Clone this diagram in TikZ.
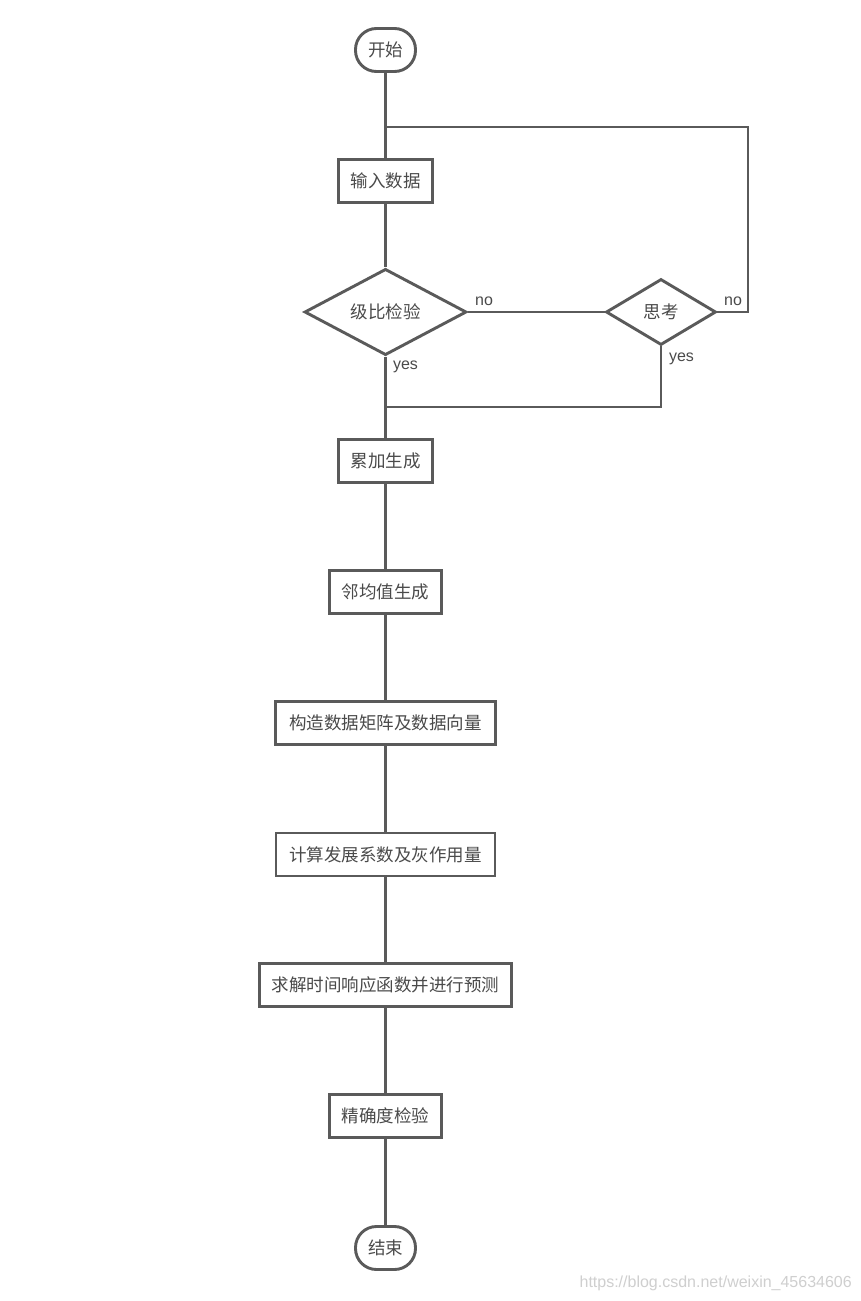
\documentclass[tikz,border=0pt]{standalone}
\usepackage{fontspec}
\setmainfont{Liberation Sans}
\newfontfamily\cjk{Noto Sans CJK SC}
\usetikzlibrary{shapes.geometric}
\definecolor{ln}{HTML}{5A5A5A}
\definecolor{tx}{HTML}{4A4A4A}
\definecolor{wm}{HTML}{CFCFCF}
\begin{document}
\begin{tikzpicture}[x=1pt,y=-1pt,
  conn/.style={draw=ln, line width=2.9pt},
  procbox/.style={draw=ln, line width=2.9pt, fill=white, inner sep=0pt, text=tx,
    font=\cjk\fontsize{17.5}{20}\selectfont, minimum height=43pt},
  termbox/.style={procbox, rounded corners=21pt, minimum width=60pt},
  decbox/.style={diamond, draw=ln, line width=2.9pt, fill=white, inner sep=0pt, text=tx,
    font=\cjk\fontsize{17.5}{20}\selectfont},
  lbl/.style={inner sep=0pt, text=tx, font=\fontsize{16}{18}\selectfont}
]
\useasboundingbox[fill=white] (0,0) rectangle (861,1301);

\node[termbox] (start) at (385.5,50) {开始};
\node[procbox, minimum width=94pt] (input) at (385.5,181) {输入数据};
\node[decbox, minimum width=162pt, minimum height=79pt] (check) at (385.5,312) {级比检验};
\node[decbox, minimum width=110pt, minimum height=66pt] (think) at (661,312) {思考};
\node[procbox, minimum width=94pt] (accum) at (385.5,461) {累加生成};
\node[procbox, minimum width=112pt] (mean) at (385.5,592) {邻均值生成};
\node[procbox, minimum width=220pt] (construct) at (385.5,723) {构造数据矩阵及数据向量};
\node[procbox, minimum width=219pt] (compute) at (385.5,854.5) {计算发展系数及灰作用量};
\node[procbox, minimum width=252pt] (solve) at (385.5,985) {求解时间响应函数并进行预测};
\node[procbox, minimum width=112pt] (precision) at (385.5,1116) {精确度检验};
\node[termbox] (finish) at (385.5,1248) {结束};

\coordinate (join1) at (385.5,127);
\coordinate (loopR) at (748,127);
\coordinate (join2) at (385.5,407);

\draw[conn] (start) -- (input);
\draw[conn] (think.east) -| (loopR) -- (join1);
\draw[conn] (input) -- (check);
\draw[conn] (check.east) -- (think.west);
\draw[conn] (check.south) -- (accum.north);
\draw[conn] (think.south) |- (join2);
\draw[conn] (accum) -- (mean);
\draw[conn] (mean) -- (construct);
\draw[conn] (construct) -- (compute);
\draw[conn] (compute) -- (solve);
\draw[conn] (solve) -- (precision);
\draw[conn] (precision) -- (finish);

\node[lbl] (no1) at (484,301) {no};
\node[lbl] (no2) at (733,301) {no};
\node[lbl] (yes1) at (405.5,367) {yes};
\node[lbl] (yes2) at (681.5,359) {yes};

\node[inner sep=0pt, text=wm, font=\fontsize{16}{18}\selectfont, anchor=east] (wmark) at (852,1283) {https://blog.csdn.net/weixin\_45634606};
\end{tikzpicture}
\end{document}
